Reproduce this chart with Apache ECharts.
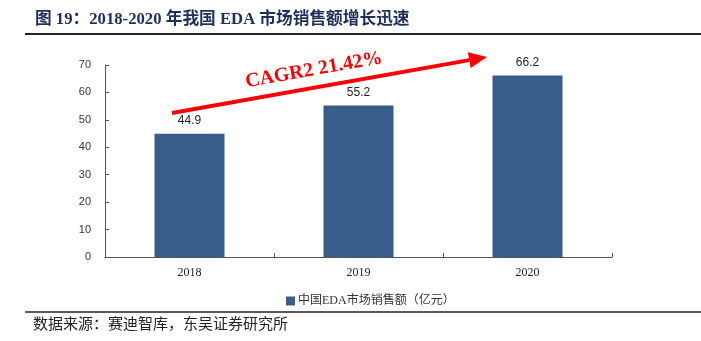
<!DOCTYPE html>
<html>
<head>
<meta charset="utf-8">
<script src="https://cdn.jsdelivr.net/npm/echarts@6/dist/echarts.min.js"></script>
<style>
  html, body { margin: 0; padding: 0; background: #fff; }
  #chart { width: 701px; height: 341px; }
</style>
</head>
<body>
<div id="chart"></div>
<script>
// Chart data
const years = ['2018', '2019', '2020'];
const salesValues = [44.9, 55.2, 66.2];
const seriesName = '中国EDA市场销售额（亿元）';
const titleText = '图 19：2018-2020 年我国 EDA 市场销售额增长迅速';
const sourceText = '数据来源：赛迪智库，东吴证券研究所';
const cagrText = 'CAGR2 21.42%';

const chart = echarts.init(document.getElementById('chart'), null, { renderer: 'canvas' });

const serif = '"Liberation Serif", "Times New Roman", "Noto Sans CJK SC", serif';
const cjk = '"Liberation Serif", "Noto Sans CJK SC", serif';

// Growth arrow geometry (annotation)
const arrowFrom = [172, 113];
const arrowTo = [487, 57];
const ang = Math.atan2(arrowTo[1] - arrowFrom[1], arrowTo[0] - arrowFrom[0]);
const headLen = 18, headHalf = 8;
const base = [arrowTo[0] - headLen * Math.cos(ang), arrowTo[1] - headLen * Math.sin(ang)];
const headPts = [
  arrowTo,
  [base[0] + headHalf * Math.sin(ang), base[1] - headHalf * Math.cos(ang)],
  [base[0] - headHalf * Math.sin(ang), base[1] + headHalf * Math.cos(ang)]
];

chart.setOption({
  animation: false,
  backgroundColor: '#fff',
  grid: { left: 105, right: 89, top: 65, bottom: 84, containLabel: false },
  xAxis: {
    type: 'category',
    data: years,
    boundaryGap: true,
    axisLine: { lineStyle: { color: '#555', width: 1 } },
    axisTick: { show: true, alignWithLabel: false, length: 4, inside: true, lineStyle: { color: '#555' } },
    axisLabel: { color: '#222', fontFamily: serif, fontSize: 12, margin: 10 }
  },
  yAxis: {
    type: 'value',
    min: 0,
    max: 70,
    interval: 10,
    splitLine: { show: false },
    axisLine: { show: true, lineStyle: { color: '#555', width: 1 } },
    axisTick: { show: true, length: 4, inside: true, lineStyle: { color: '#555' } },
    axisLabel: { color: '#333', fontFamily: '"Liberation Sans", Arial, sans-serif', fontSize: 11, margin: 14 }
  },
  legend: {
    top: 290,
    left: 281,
    itemWidth: 9,
    itemHeight: 9,
    itemGap: 4,
    icon: 'rect',
    textStyle: { color: '#333', fontFamily: cjk, fontSize: 12, padding: [0, 0, 0, -2] },
    data: [seriesName]
  },
  series: [{
    name: seriesName,
    type: 'bar',
    data: salesValues,
    barWidth: 70,
    itemStyle: { color: '#385d8a' },
    label: {
      show: true,
      position: 'top',
      distance: 7,
      color: '#222',
      fontFamily: '"Liberation Sans", Arial, sans-serif',
      fontSize: 12
    }
  }],
  graphic: [
    {
      type: 'text',
      left: 35,
      top: 11,
      style: { text: titleText, fill: '#1e2f5e', font: 'bold 16.7px ' + cjk }
    },
    {
      type: 'line',
      shape: { x1: 25, y1: 34, x2: 701, y2: 34 },
      style: { stroke: '#222', lineWidth: 2 }
    },
    {
      type: 'line',
      shape: { x1: 25, y1: 312, x2: 701, y2: 312 },
      style: { stroke: '#222', lineWidth: 1.5 }
    },
    {
      type: 'text',
      left: 33,
      top: 318,
      style: { text: sourceText, fill: '#222', font: '15px ' + cjk }
    },
    {
      type: 'line',
      shape: { x1: arrowFrom[0], y1: arrowFrom[1], x2: base[0], y2: base[1] },
      style: { stroke: '#ff0000', lineWidth: 4 }
    },
    {
      type: 'polygon',
      shape: { points: headPts },
      style: { fill: '#ff0000' }
    },
    {
      type: 'text',
      x: 314,
      y: 70,
      rotation: -ang,
      style: {
        text: cagrText,
        fill: '#ff0000',
        font: 'bold 20px ' + serif,
        align: 'center',
        verticalAlign: 'middle'
      }
    }
  ]
});
</script>
</body>
</html>
